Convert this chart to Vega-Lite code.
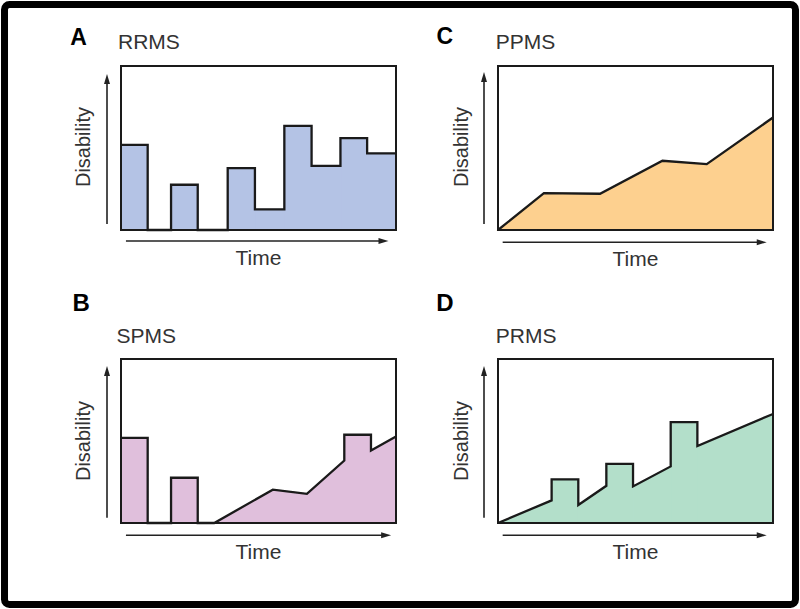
{
  "$schema": "https://vega.github.io/schema/vega-lite/v6.json",
  "padding": 0,
  "background": "white",
  "datasets": {
    "RRMS": [
      {"i": 1, "t": 0, "d": 51.9}, {"i": 2, "t": 9.7, "d": 51.9}, {"i": 3, "t": 9.7, "d": 0}, {"i": 4, "t": 18.2, "d": 0},
      {"i": 5, "t": 18.2, "d": 27.6}, {"i": 6, "t": 27.9, "d": 27.6}, {"i": 7, "t": 27.9, "d": 0}, {"i": 8, "t": 38.8, "d": 0},
      {"i": 9, "t": 38.8, "d": 37.7}, {"i": 10, "t": 48.7, "d": 37.7}, {"i": 11, "t": 48.7, "d": 12.6}, {"i": 12, "t": 59.4, "d": 12.6},
      {"i": 13, "t": 59.4, "d": 63.5}, {"i": 14, "t": 69.3, "d": 63.5}, {"i": 15, "t": 69.3, "d": 39.1}, {"i": 16, "t": 79.8, "d": 39.1},
      {"i": 17, "t": 79.8, "d": 56.0}, {"i": 18, "t": 89.5, "d": 56.0}, {"i": 19, "t": 89.5, "d": 46.7}, {"i": 20, "t": 100, "d": 46.7}
    ],
    "RRMS_fill": [
      {"seg": 1, "t": 0, "d": 51.9}, {"seg": 1, "t": 9.7, "d": 51.9},
      {"seg": 2, "t": 18.2, "d": 27.6}, {"seg": 2, "t": 27.9, "d": 27.6},
      {"seg": 3, "t": 38.8, "d": 37.7}, {"seg": 3, "t": 48.7, "d": 37.7},
      {"seg": 4, "t": 48.7, "d": 12.6}, {"seg": 4, "t": 59.4, "d": 12.6},
      {"seg": 5, "t": 59.4, "d": 63.5}, {"seg": 5, "t": 69.3, "d": 63.5},
      {"seg": 6, "t": 69.3, "d": 39.1}, {"seg": 6, "t": 79.8, "d": 39.1},
      {"seg": 7, "t": 79.8, "d": 56.0}, {"seg": 7, "t": 89.5, "d": 56.0},
      {"seg": 8, "t": 89.5, "d": 46.7}, {"seg": 8, "t": 100, "d": 46.7}
    ],
    "PPMS": [
      {"i": 1, "t": 0, "d": 0}, {"i": 2, "t": 16.7, "d": 22.5}, {"i": 3, "t": 37.1, "d": 22.1},
      {"i": 4, "t": 59.8, "d": 42.2}, {"i": 5, "t": 75.9, "d": 40.2}, {"i": 6, "t": 100, "d": 68.6}
    ],
    "SPMS": [
      {"i": 1, "t": 0, "d": 51.9}, {"i": 2, "t": 9.7, "d": 51.9}, {"i": 3, "t": 9.7, "d": 0}, {"i": 4, "t": 18.2, "d": 0},
      {"i": 5, "t": 18.2, "d": 27.6}, {"i": 6, "t": 27.9, "d": 27.6}, {"i": 7, "t": 27.9, "d": 0}, {"i": 8, "t": 33.9, "d": 0},
      {"i": 9, "t": 55.2, "d": 20.3}, {"i": 10, "t": 67.6, "d": 17.8}, {"i": 11, "t": 81.2, "d": 38.1}, {"i": 12, "t": 81.2, "d": 53.8},
      {"i": 13, "t": 90.9, "d": 53.8}, {"i": 14, "t": 90.9, "d": 44.2}, {"i": 15, "t": 100, "d": 52.7}
    ],
    "SPMS_fill": [
      {"seg": 1, "t": 0, "d": 51.9}, {"seg": 1, "t": 9.7, "d": 51.9},
      {"seg": 2, "t": 18.2, "d": 27.6}, {"seg": 2, "t": 27.9, "d": 27.6},
      {"seg": 3, "t": 33.9, "d": 0}, {"seg": 3, "t": 55.2, "d": 20.3}, {"seg": 3, "t": 67.6, "d": 17.8}, {"seg": 3, "t": 81.2, "d": 38.1},
      {"seg": 4, "t": 81.2, "d": 53.8}, {"seg": 4, "t": 90.9, "d": 53.8},
      {"seg": 5, "t": 90.9, "d": 44.2}, {"seg": 5, "t": 100, "d": 52.7}
    ],
    "PRMS": [
      {"i": 1, "t": 0, "d": 0}, {"i": 2, "t": 19.5, "d": 13.8}, {"i": 3, "t": 19.5, "d": 26.6}, {"i": 4, "t": 29.2, "d": 26.6},
      {"i": 5, "t": 29.2, "d": 11.0}, {"i": 6, "t": 39.4, "d": 22.7}, {"i": 7, "t": 39.4, "d": 36.1}, {"i": 8, "t": 49.1, "d": 36.1},
      {"i": 9, "t": 49.1, "d": 22.3}, {"i": 10, "t": 62.8, "d": 34.5}, {"i": 11, "t": 62.8, "d": 61.5}, {"i": 12, "t": 72.5, "d": 61.5},
      {"i": 13, "t": 72.5, "d": 46.9}, {"i": 14, "t": 100, "d": 66.5}
    ],
    "PRMS_fill": [
      {"seg": 1, "t": 0, "d": 0}, {"seg": 1, "t": 19.5, "d": 13.8},
      {"seg": 2, "t": 19.5, "d": 26.6}, {"seg": 2, "t": 29.2, "d": 26.6},
      {"seg": 3, "t": 29.2, "d": 11.0}, {"seg": 3, "t": 39.4, "d": 22.7},
      {"seg": 4, "t": 39.4, "d": 36.1}, {"seg": 4, "t": 49.1, "d": 36.1},
      {"seg": 5, "t": 49.1, "d": 22.3}, {"seg": 5, "t": 62.8, "d": 34.5},
      {"seg": 6, "t": 62.8, "d": 61.5}, {"seg": 6, "t": 72.5, "d": 61.5},
      {"seg": 7, "t": 72.5, "d": 46.9}, {"seg": 7, "t": 100, "d": 66.5}
    ],
    "one": [{}]
  },
  "columns": 2,
  "bounds": "flush",
  "spacing": {"row": 129, "column": 102},
  "concat": [
    {
      "width": 275, "height": 164,
      "layer": [
        {
          "data": {"name": "RRMS_fill"},
          "mark": {"type": "area", "fill": "#b4c3e5", "stroke": "#b4c3e5", "strokeWidth": 1.2, "opacity": 1},
          "encoding": {
            "x": {"field": "t", "type": "quantitative", "scale": {"domain": [0, 100], "nice": false}, "axis": null},
            "y": {"field": "d", "type": "quantitative", "stack": null, "scale": {"domain": [0, 100], "nice": false}, "axis": null},
            "detail": {"field": "seg", "type": "nominal"}
          }
        },
        {
          "data": {"name": "RRMS"},
          "mark": {"type": "line", "color": "#1a1a1a", "strokeWidth": 2.3},
          "encoding": {
            "x": {"field": "t", "type": "quantitative"},
            "y": {"field": "d", "type": "quantitative"},
            "order": {"field": "i", "type": "quantitative"}
          }
        },
        {"data": {"name": "one"}, "mark": {"type": "rect", "fill": null, "fillOpacity": 0, "stroke": "#1a1a1a", "strokeWidth": 2},
         "encoding": {"x": {"datum": 0, "type": "quantitative"}, "x2": {"datum": 100}, "y": {"datum": 0, "type": "quantitative"}, "y2": {"datum": 100}}},
        {"data": {"name": "one"}, "mark": {"type": "rule", "color": "#222", "strokeWidth": 1.6},
         "encoding": {"x": {"datum": -5.09, "type": "quantitative"}, "y": {"datum": 3.7, "type": "quantitative"}, "y2": {"datum": 92}}},
        {"data": {"name": "one"}, "mark": {"type": "point", "shape": "M0,-1L0.6,1L-0.6,1Z", "filled": true, "color": "#222", "opacity": 1, "size": 100},
         "encoding": {"x": {"datum": -5.09, "type": "quantitative"}, "y": {"datum": 92.1, "type": "quantitative"}}},
        {"data": {"name": "one"}, "mark": {"type": "rule", "color": "#222", "strokeWidth": 1.6},
         "encoding": {"y": {"datum": -6.7, "type": "quantitative"}, "x": {"datum": 1.8, "type": "quantitative"}, "x2": {"datum": 95.5}}},
        {"data": {"name": "one"}, "mark": {"type": "point", "shape": "M1,0L-1,-0.6L-1,0.6Z", "filled": true, "color": "#222", "opacity": 1, "size": 100},
         "encoding": {"x": {"datum": 95.45, "type": "quantitative"}, "y": {"datum": -6.7, "type": "quantitative"}}},
        {"data": {"name": "one"}, "mark": {"type": "text", "text": "Disability", "angle": 270, "align": "center", "baseline": "alphabetic", "font": "Liberation Sans", "fontSize": 20, "color": "#333"},
         "encoding": {"x": {"datum": -11.1, "type": "quantitative"}, "y": {"datum": 50.6, "type": "quantitative"}}},
        {"data": {"name": "one"}, "mark": {"type": "text", "text": "Time", "align": "center", "baseline": "alphabetic", "font": "Liberation Sans", "fontSize": 21, "color": "#333"},
         "encoding": {"x": {"datum": 50, "type": "quantitative"}, "y": {"datum": -21.3, "type": "quantitative"}}},
        {"data": {"name": "one"}, "mark": {"type": "text", "text": "RRMS", "align": "left", "baseline": "alphabetic", "font": "Liberation Sans", "fontSize": 21, "color": "#333"},
         "encoding": {"x": {"datum": -1.1, "type": "quantitative"}, "y": {"datum": 110.4, "type": "quantitative"}}},
        {"data": {"name": "one"}, "mark": {"type": "text", "text": "A", "align": "center", "baseline": "alphabetic", "font": "Liberation Sans", "fontSize": 23, "fontWeight": "bold", "color": "#000"},
         "encoding": {"x": {"datum": -15.45, "type": "quantitative"}, "y": {"datum": 112.8, "type": "quantitative"}}},
        {"data": {"name": "one"}, "mark": {"type": "rect", "fill": null, "fillOpacity": 0, "stroke": "#000", "strokeWidth": 7, "cornerRadius": 5},
         "encoding": {"x": {"datum": -42.36, "type": "quantitative"}, "x2": {"datum": 245.27}, "y": {"datum": 137.5, "type": "quantitative"}, "y2": {"datum": -228.35}}}
      ]
    },
    {
      "width": 275, "height": 164,
      "layer": [
        {
          "data": {"name": "PPMS"},
          "mark": {"type": "area", "fill": "#fdd08f", "stroke": "#fdd08f", "strokeWidth": 1.2, "opacity": 1},
          "encoding": {
            "x": {"field": "t", "type": "quantitative", "scale": {"domain": [0, 100], "nice": false}, "axis": null},
            "y": {"field": "d", "type": "quantitative", "stack": null, "scale": {"domain": [0, 100], "nice": false}, "axis": null}
          }
        },
        {
          "data": {"name": "PPMS"},
          "mark": {"type": "line", "color": "#1a1a1a", "strokeWidth": 2.3},
          "encoding": {
            "x": {"field": "t", "type": "quantitative"},
            "y": {"field": "d", "type": "quantitative"},
            "order": {"field": "i", "type": "quantitative"}
          }
        },
        {"data": {"name": "one"}, "mark": {"type": "rect", "fill": null, "fillOpacity": 0, "stroke": "#1a1a1a", "strokeWidth": 2},
         "encoding": {"x": {"datum": 0, "type": "quantitative"}, "x2": {"datum": 100}, "y": {"datum": 0, "type": "quantitative"}, "y2": {"datum": 100}}},
        {"data": {"name": "one"}, "mark": {"type": "rule", "color": "#222", "strokeWidth": 1.6},
         "encoding": {"x": {"datum": -5.09, "type": "quantitative"}, "y": {"datum": 3.7, "type": "quantitative"}, "y2": {"datum": 93}}},
        {"data": {"name": "one"}, "mark": {"type": "point", "shape": "M0,-1L0.6,1L-0.6,1Z", "filled": true, "color": "#222", "opacity": 1, "size": 100},
         "encoding": {"x": {"datum": -5.09, "type": "quantitative"}, "y": {"datum": 93.3, "type": "quantitative"}}},
        {"data": {"name": "one"}, "mark": {"type": "rule", "color": "#222", "strokeWidth": 1.6},
         "encoding": {"y": {"datum": -7.5, "type": "quantitative"}, "x": {"datum": 1.7, "type": "quantitative"}, "x2": {"datum": 96}}},
        {"data": {"name": "one"}, "mark": {"type": "point", "shape": "M1,0L-1,-0.6L-1,0.6Z", "filled": true, "color": "#222", "opacity": 1, "size": 100},
         "encoding": {"x": {"datum": 95.9, "type": "quantitative"}, "y": {"datum": -7.5, "type": "quantitative"}}},
        {"data": {"name": "one"}, "mark": {"type": "text", "text": "Disability", "angle": 270, "align": "center", "baseline": "alphabetic", "font": "Liberation Sans", "fontSize": 20, "color": "#333"},
         "encoding": {"x": {"datum": -10.8, "type": "quantitative"}, "y": {"datum": 50.6, "type": "quantitative"}}},
        {"data": {"name": "one"}, "mark": {"type": "text", "text": "Time", "align": "center", "baseline": "alphabetic", "font": "Liberation Sans", "fontSize": 21, "color": "#333"},
         "encoding": {"x": {"datum": 50, "type": "quantitative"}, "y": {"datum": -21.8, "type": "quantitative"}}},
        {"data": {"name": "one"}, "mark": {"type": "text", "text": "PPMS", "align": "left", "baseline": "alphabetic", "font": "Liberation Sans", "fontSize": 21, "color": "#333"},
         "encoding": {"x": {"datum": -0.8, "type": "quantitative"}, "y": {"datum": 110.4, "type": "quantitative"}}},
        {"data": {"name": "one"}, "mark": {"type": "text", "text": "C", "align": "center", "baseline": "alphabetic", "font": "Liberation Sans", "fontSize": 23, "fontWeight": "bold", "color": "#000"},
         "encoding": {"x": {"datum": -19.3, "type": "quantitative"}, "y": {"datum": 113.4, "type": "quantitative"}}}
      ]
    },
    {
      "width": 275, "height": 164,
      "layer": [
        {
          "data": {"name": "SPMS_fill"},
          "mark": {"type": "area", "fill": "#e0bfdc", "stroke": "#e0bfdc", "strokeWidth": 1.2, "opacity": 1},
          "encoding": {
            "x": {"field": "t", "type": "quantitative", "scale": {"domain": [0, 100], "nice": false}, "axis": null},
            "y": {"field": "d", "type": "quantitative", "stack": null, "scale": {"domain": [0, 100], "nice": false}, "axis": null},
            "detail": {"field": "seg", "type": "nominal"}
          }
        },
        {
          "data": {"name": "SPMS"},
          "mark": {"type": "line", "color": "#1a1a1a", "strokeWidth": 2.3},
          "encoding": {
            "x": {"field": "t", "type": "quantitative"},
            "y": {"field": "d", "type": "quantitative"},
            "order": {"field": "i", "type": "quantitative"}
          }
        },
        {"data": {"name": "one"}, "mark": {"type": "rect", "fill": null, "fillOpacity": 0, "stroke": "#1a1a1a", "strokeWidth": 2},
         "encoding": {"x": {"datum": 0, "type": "quantitative"}, "x2": {"datum": 100}, "y": {"datum": 0, "type": "quantitative"}, "y2": {"datum": 100}}},
        {"data": {"name": "one"}, "mark": {"type": "rule", "color": "#222", "strokeWidth": 1.6},
         "encoding": {"x": {"datum": -5.09, "type": "quantitative"}, "y": {"datum": 3.2, "type": "quantitative"}, "y2": {"datum": 92.5}}},
        {"data": {"name": "one"}, "mark": {"type": "point", "shape": "M0,-1L0.6,1L-0.6,1Z", "filled": true, "color": "#222", "opacity": 1, "size": 100},
         "encoding": {"x": {"datum": -5.09, "type": "quantitative"}, "y": {"datum": 92.7, "type": "quantitative"}}},
        {"data": {"name": "one"}, "mark": {"type": "rule", "color": "#222", "strokeWidth": 1.6},
         "encoding": {"y": {"datum": -7.5, "type": "quantitative"}, "x": {"datum": 1.8, "type": "quantitative"}, "x2": {"datum": 96.5}}},
        {"data": {"name": "one"}, "mark": {"type": "point", "shape": "M1,0L-1,-0.6L-1,0.6Z", "filled": true, "color": "#222", "opacity": 1, "size": 100},
         "encoding": {"x": {"datum": 96.4, "type": "quantitative"}, "y": {"datum": -7.5, "type": "quantitative"}}},
        {"data": {"name": "one"}, "mark": {"type": "text", "text": "Disability", "angle": 270, "align": "center", "baseline": "alphabetic", "font": "Liberation Sans", "fontSize": 20, "color": "#333"},
         "encoding": {"x": {"datum": -11.1, "type": "quantitative"}, "y": {"datum": 50, "type": "quantitative"}}},
        {"data": {"name": "one"}, "mark": {"type": "text", "text": "Time", "align": "center", "baseline": "alphabetic", "font": "Liberation Sans", "fontSize": 21, "color": "#333"},
         "encoding": {"x": {"datum": 50, "type": "quantitative"}, "y": {"datum": -22, "type": "quantitative"}}},
        {"data": {"name": "one"}, "mark": {"type": "text", "text": "SPMS", "align": "left", "baseline": "alphabetic", "font": "Liberation Sans", "fontSize": 21, "color": "#333"},
         "encoding": {"x": {"datum": -1.6, "type": "quantitative"}, "y": {"datum": 109.9, "type": "quantitative"}}},
        {"data": {"name": "one"}, "mark": {"type": "text", "text": "B", "align": "center", "baseline": "alphabetic", "font": "Liberation Sans", "fontSize": 24, "fontWeight": "bold", "color": "#000"},
         "encoding": {"x": {"datum": -14.5, "type": "quantitative"}, "y": {"datum": 129.3, "type": "quantitative"}}}
      ]
    },
    {
      "width": 275, "height": 164,
      "layer": [
        {
          "data": {"name": "PRMS_fill"},
          "mark": {"type": "area", "fill": "#b3dfca", "stroke": "#b3dfca", "strokeWidth": 1.2, "opacity": 1},
          "encoding": {
            "x": {"field": "t", "type": "quantitative", "scale": {"domain": [0, 100], "nice": false}, "axis": null},
            "y": {"field": "d", "type": "quantitative", "stack": null, "scale": {"domain": [0, 100], "nice": false}, "axis": null},
            "detail": {"field": "seg", "type": "nominal"}
          }
        },
        {
          "data": {"name": "PRMS"},
          "mark": {"type": "line", "color": "#1a1a1a", "strokeWidth": 2.3},
          "encoding": {
            "x": {"field": "t", "type": "quantitative"},
            "y": {"field": "d", "type": "quantitative"},
            "order": {"field": "i", "type": "quantitative"}
          }
        },
        {"data": {"name": "one"}, "mark": {"type": "rect", "fill": null, "fillOpacity": 0, "stroke": "#1a1a1a", "strokeWidth": 2},
         "encoding": {"x": {"datum": 0, "type": "quantitative"}, "x2": {"datum": 100}, "y": {"datum": 0, "type": "quantitative"}, "y2": {"datum": 100}}},
        {"data": {"name": "one"}, "mark": {"type": "rule", "color": "#222", "strokeWidth": 1.6},
         "encoding": {"x": {"datum": -5.09, "type": "quantitative"}, "y": {"datum": 3.2, "type": "quantitative"}, "y2": {"datum": 92.5}}},
        {"data": {"name": "one"}, "mark": {"type": "point", "shape": "M0,-1L0.6,1L-0.6,1Z", "filled": true, "color": "#222", "opacity": 1, "size": 100},
         "encoding": {"x": {"datum": -5.09, "type": "quantitative"}, "y": {"datum": 92.7, "type": "quantitative"}}},
        {"data": {"name": "one"}, "mark": {"type": "rule", "color": "#222", "strokeWidth": 1.6},
         "encoding": {"y": {"datum": -7.5, "type": "quantitative"}, "x": {"datum": 1.7, "type": "quantitative"}, "x2": {"datum": 96}}},
        {"data": {"name": "one"}, "mark": {"type": "point", "shape": "M1,0L-1,-0.6L-1,0.6Z", "filled": true, "color": "#222", "opacity": 1, "size": 100},
         "encoding": {"x": {"datum": 95.9, "type": "quantitative"}, "y": {"datum": -7.5, "type": "quantitative"}}},
        {"data": {"name": "one"}, "mark": {"type": "text", "text": "Disability", "angle": 270, "align": "center", "baseline": "alphabetic", "font": "Liberation Sans", "fontSize": 20, "color": "#333"},
         "encoding": {"x": {"datum": -10.8, "type": "quantitative"}, "y": {"datum": 50, "type": "quantitative"}}},
        {"data": {"name": "one"}, "mark": {"type": "text", "text": "Time", "align": "center", "baseline": "alphabetic", "font": "Liberation Sans", "fontSize": 21, "color": "#333"},
         "encoding": {"x": {"datum": 50, "type": "quantitative"}, "y": {"datum": -22, "type": "quantitative"}}},
        {"data": {"name": "one"}, "mark": {"type": "text", "text": "PRMS", "align": "left", "baseline": "alphabetic", "font": "Liberation Sans", "fontSize": 21, "color": "#333"},
         "encoding": {"x": {"datum": -0.8, "type": "quantitative"}, "y": {"datum": 110, "type": "quantitative"}}},
        {"data": {"name": "one"}, "mark": {"type": "text", "text": "D", "align": "center", "baseline": "alphabetic", "font": "Liberation Sans", "fontSize": 24, "fontWeight": "bold", "color": "#000"},
         "encoding": {"x": {"datum": -19.3, "type": "quantitative"}, "y": {"datum": 129.3, "type": "quantitative"}}}
      ]
    }
  ],
  "config": {
    "view": {"stroke": "#1a1a1a", "strokeWidth": 2}
  }
}
